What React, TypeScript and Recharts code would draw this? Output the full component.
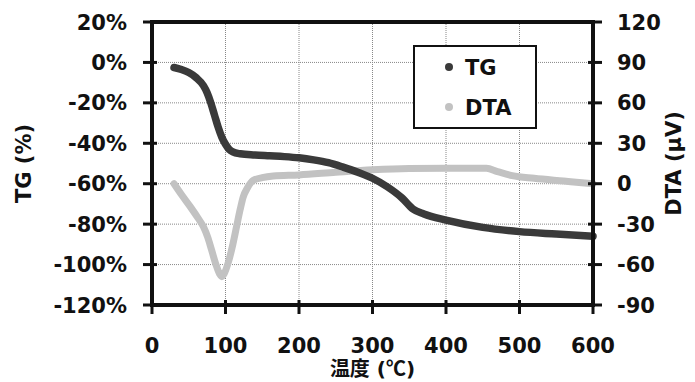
import { LineChart, Line, XAxis, YAxis, CartesianGrid, Legend } from 'recharts';

// TG curve (weight loss, %)
const tgTemps = [30, 40, 50, 60, 70, 75, 80, 85, 90, 95, 100, 105, 110, 120, 140, 160, 180, 200, 220, 240, 260, 280, 300, 320, 340, 355, 370, 400, 450, 500, 550, 600];
const tgValues = [-2.5, -3.5, -5, -7.5, -11.5, -15, -20, -26, -32, -37, -40.5, -43, -44.3, -45.2, -45.8, -46.2, -46.6, -47.2, -48.2, -49.6, -51.8, -54.3, -57.3, -61.5, -67, -72.5, -75, -78, -81.6, -83.7, -84.9, -86];

// DTA curve (µV)
const dtaTemps = [30, 40, 52, 62, 70, 76, 81, 87, 92, 95, 98, 104, 110, 115, 120, 124, 130, 138, 150, 165, 200, 250, 300, 350, 400, 455, 470, 490, 520, 560, 600];
const dtaValues = [0, -8, -17, -25, -32, -40, -49, -60, -67, -69, -67, -58, -45, -32, -19, -10, -3, 2.5, 4.5, 5.7, 6.5, 8.5, 10.3, 11.3, 11.5, 11.5, 9, 6, 4, 2, 0];

const xTicks = [0, 100, 200, 300, 400, 500, 600];
const tgTicks = [-120, -100, -80, -60, -40, -20, 0, 20];
const dtaTicks = [-90, -60, -30, 0, 30, 60, 90, 120];

const tgData = tgTemps.map((t, i) => ({ t, tg: tgValues[i] }));
const dtaData = dtaTemps.map((t, i) => ({ t, dta: dtaValues[i] }));

const INK = '#111';
const TG_COLOR = '#3a3a3a';
const DTA_COLOR = '#c2c2c2';
const FONT = "'DejaVu Sans', Verdana, sans-serif";
const CJK = "'Noto Sans CJK JP', sans-serif";
const textStyle = { fontFamily: FONT, fontWeight: 700, fontSize: 21, fill: INK };

const axisLine = { stroke: INK, strokeWidth: 4, strokeLinecap: 'square' as const };

// ticks cross the frame, so tick lines are drawn here together with the text
const LeftTick = ({ x, y, payload }: any) => (
  <g>
    <line x1={x - 7} x2={x + 7} y1={y} y2={y} stroke={INK} strokeWidth={3} />
    <text x={x - 23} y={y + 7.5} textAnchor="end" style={textStyle}>{payload.value}%</text>
  </g>
);

const RightTick = ({ x, y, payload }: any) => (
  <g>
    <line x1={x - 7} x2={x + 7} y1={y} y2={y} stroke={INK} strokeWidth={3} />
    <text x={x + 22} y={y + 7.5} textAnchor="start" style={textStyle}>{payload.value}</text>
  </g>
);

const BottomTick = ({ x, y, payload }: any) => (
  <g>
    <line x1={x} x2={x} y1={y - 7} y2={y + 7} stroke={INK} strokeWidth={3} />
    <text x={x} y={y + 46} textAnchor="middle" style={textStyle}>{payload.value}</text>
  </g>
);

const TopTick = ({ x, y }: any) => (
  <line x1={x} x2={x} y1={y - 7} y2={y + 7} stroke={INK} strokeWidth={3} />
);

const LegendBox = () => (
  <svg width={124} height={84}>
    <rect x={1} y={1} width={122} height={82} fill="#fff" stroke={INK} strokeWidth={2} />
    <circle cx={36} cy={22} r={4} fill={TG_COLOR} />
    <text x={52} y={30} style={textStyle}>TG</text>
    <circle cx={36} cy={62} r={4} fill={DTA_COLOR} />
    <text x={52} y={70} style={textStyle}>DTA</text>
  </svg>
);

export default function App() {
  return (
    <div style={{ position: 'absolute', left: 0, top: 0, background: '#fff' }}>
      <LineChart width={695} height={382} margin={{ top: 0, right: 0, bottom: 0, left: 0 }}>
        <CartesianGrid yAxisId="tg" stroke="#888" strokeDasharray="1 1" horizontalValues={tgTicks} verticalValues={xTicks} />
        <XAxis
          dataKey="t"
          type="number"
          domain={[0, 600]}
          ticks={xTicks}
          height={77}
          tickSize={0}
          tickLine={false}
          axisLine={axisLine}
          tick={<BottomTick />}
          label={{
            content: ({ viewBox }: any) => (
              <text
                x={viewBox.x + viewBox.width / 2}
                y={viewBox.y + 71}
                textAnchor="middle"
                style={{ ...textStyle, fontSize: 20, fontFamily: `'DejaVu Sans', ${CJK}` }}
              >
                温度 (<tspan style={{ fontFamily: CJK }}>℃</tspan>)
              </text>
            ),
          }}
        />
        <XAxis
          xAxisId="top"
          orientation="top"
          dataKey="t"
          type="number"
          domain={[0, 600]}
          ticks={xTicks}
          height={22}
          tickSize={0}
          tickLine={false}
          axisLine={axisLine}
          tick={<TopTick />}
        />
        <YAxis
          yAxisId="tg"
          type="number"
          domain={[-120, 20]}
          ticks={tgTicks}
          width={152}
          tickSize={0}
          tickLine={false}
          axisLine={axisLine}
          tick={<LeftTick />}
          label={{
            content: ({ viewBox }: any) => {
              const cx = viewBox.x + 24;
              const cy = viewBox.y + viewBox.height / 2;
              return (
                <text x={cx} y={cy} textAnchor="middle" dominantBaseline="central" transform={`rotate(-90 ${cx} ${cy})`} style={textStyle}>
                  TG (%)
                </text>
              );
            },
          }}
        />
        <YAxis
          yAxisId="dta"
          orientation="right"
          type="number"
          domain={[-90, 120]}
          ticks={dtaTicks}
          width={102}
          tickSize={0}
          tickLine={false}
          axisLine={axisLine}
          tick={<RightTick />}
          label={{
            content: ({ viewBox }: any) => {
              const cx = viewBox.x + 81;
              const cy = viewBox.y + viewBox.height / 2;
              return (
                <text x={cx} y={cy} textAnchor="middle" dominantBaseline="central" transform={`rotate(-90 ${cx} ${cy})`} style={textStyle}>
                  DTA (μV)
                </text>
              );
            },
          }}
        />
        <Line
          yAxisId="dta"
          data={dtaData}
          dataKey="dta"
          name="DTA"
          type="monotone"
          stroke={DTA_COLOR}
          strokeWidth={7}
          strokeLinecap="round"
          strokeLinejoin="round"
          dot={false}
          isAnimationActive={false}
        />
        <Line
          yAxisId="tg"
          data={tgData}
          dataKey="tg"
          name="TG"
          type="monotone"
          stroke={TG_COLOR}
          strokeWidth={7.5}
          strokeLinecap="round"
          strokeLinejoin="round"
          dot={false}
          isAnimationActive={false}
        />
        <Legend
          layout="vertical"
          align="center"
          verticalAlign="middle"
          content={<LegendBox />}
          wrapperStyle={{ left: 413, top: 45, width: 124, height: 84 }}
        />
      </LineChart>
    </div>
  );
}
